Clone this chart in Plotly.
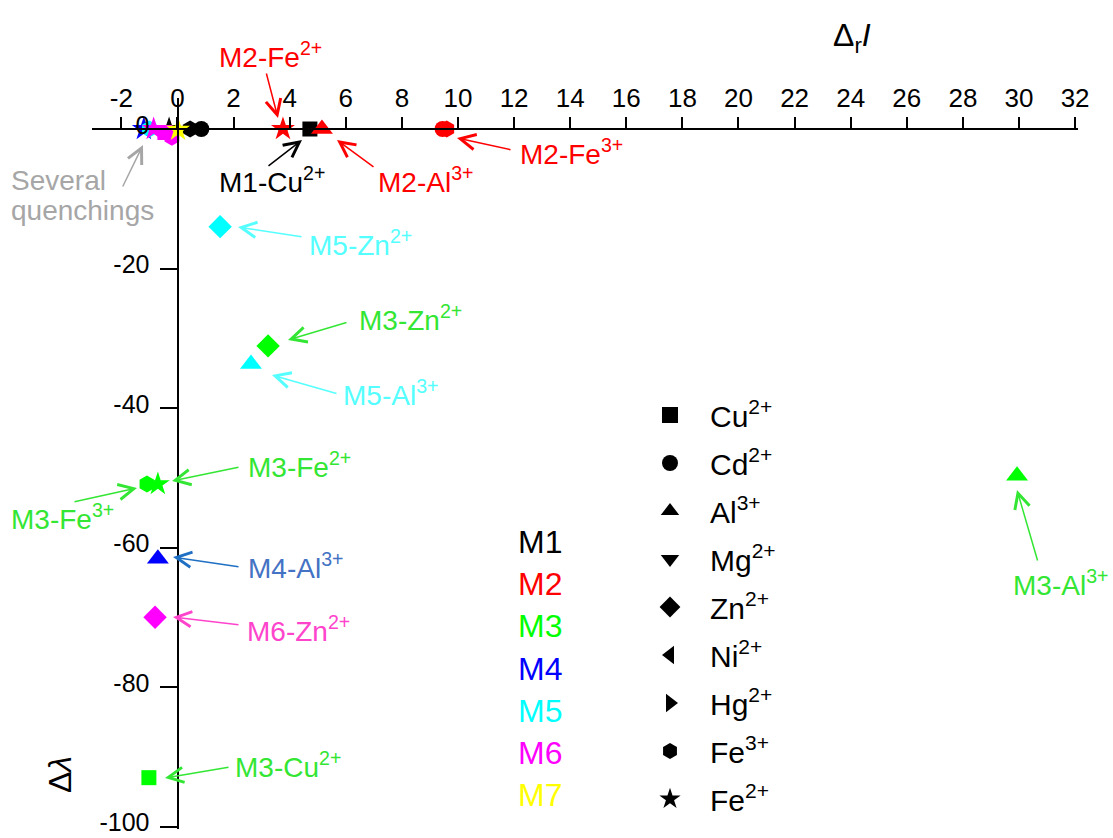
import plotly.graph_objects as go

# ---------------- data ----------------
sensors = ["M1", "M2", "M3", "M4", "M5", "M6", "M7"]
sensor_colors = ["#000000", "#FF0000", "#00FF00", "#0000FF", "#00FFFF", "#FF00FF", "#FFFF00"]

ion_names = ["Cu2+", "Cd2+", "Al3+", "Mg2+", "Zn2+", "Ni2+", "Hg2+", "Fe3+", "Fe2+"]
ion_labels = ["Cu<sup>2+</sup>", "Cd<sup>2+</sup>", "Al<sup>3+</sup>", "Mg<sup>2+</sup>",
              "Zn<sup>2+</sup>", "Ni<sup>2+</sup>", "Hg<sup>2+</sup>", "Fe<sup>3+</sup>", "Fe<sup>2+</sup>"]
ion_symbols = ["square", "circle", "triangle-up", "triangle-down", "diamond",
               "triangle-left", "triangle-right", "hexagon", "star"]
ion_sizes = [15, 16, 19, 19, 18, 19, 19, 17, 18]

# per-sensor measurements: ion, delta I (ΔrI), delta lambda (Δλ)
M1_ions = ["Fe2+", "Fe3+", "Cd2+", "Cu2+"]
M1_dI = [-0.3, 0.45, 0.85, 4.72]
M1_dL = [0.0, 0.0, 0.0, 0.0]

M2_ions = ["Fe2+", "Al3+", "Cd2+", "Fe3+"]
M2_dI = [3.76, 5.15, 9.45, 9.6]
M2_dL = [0.0, 0.0, 0.0, 0.0]

M3_ions = ["Zn2+", "Fe3+", "Fe2+", "Al3+", "Cu2+"]
M3_dI = [3.23, -1.09, -0.7, 29.93, -1.02]
M3_dL = [-31.1, -50.9, -50.9, -49.7, -93.0]

M4_ions = ["Fe2+", "Al3+"]
M4_dI = [-1.2, -0.7]
M4_dL = [0.0, -61.6]

M5_ions = ["Fe3+", "Zn2+", "Al3+"]
M5_dI = [-1.0, 1.52, 2.62]
M5_dL = [0.0, -14.0, -33.7]

M6_ions = ["Cu2+", "Fe3+", "Fe2+", "Zn2+"]
M6_dI = [-0.45, -0.2, -0.85, -0.8]
M6_dL = [-0.5, -1.2, 0.0, -70.0]

M7_ions = ["Fe2+"]
M7_dI = [0.02]
M7_dL = [-0.1]

sensor_data = {
    "M1": (M1_ions, M1_dI, M1_dL),
    "M2": (M2_ions, M2_dI, M2_dL),
    "M3": (M3_ions, M3_dI, M3_dL),
    "M4": (M4_ions, M4_dI, M4_dL),
    "M5": (M5_ions, M5_dI, M5_dL),
    "M6": (M6_ions, M6_dI, M6_dL),
    "M7": (M7_ions, M7_dI, M7_dL),
}

x_ticks = list(range(-2, 33, 2))
x_ticktext = [str(v) for v in x_ticks]
y_ticks = [0, -20, -40, -60, -80, -100]
y_ticktext = [str(v) for v in y_ticks]

# ---------------- layout geometry (pixels) ----------------
W, H = 1113, 838
X0_PX, PX_PER_X = 177.5, 28.05
Y0_PX, PX_PER_Y = 129.0, 6.975
x_range = [-3.05, 32.1]
y_range = [-100.3, 4.5]

def px_x(p):
    return p / W

def px_y(p):
    return 1 - p / H

x_dom = [px_x(X0_PX + x_range[0] * PX_PER_X), px_x(X0_PX + x_range[1] * PX_PER_X)]
y_dom = [px_y(Y0_PX - y_range[0] * PX_PER_Y), px_y(Y0_PX - y_range[1] * PX_PER_Y)]

FONT = "Liberation Sans, Arial, sans-serif"

fig = go.Figure()

sym_map = dict(zip(ion_names, ion_symbols))
size_map = dict(zip(ion_names, ion_sizes))

for s, c in zip(sensors, sensor_colors):
    ions, dI, dL = sensor_data[s]
    fig.add_trace(go.Scatter(
        x=dI, y=dL, mode="markers", name=s, showlegend=False,
        marker=dict(symbol=[sym_map[i] for i in ions], size=[size_map[i] for i in ions],
                    color=c, opacity=1, line=dict(width=0)),
        cliponaxis=False, hoverinfo="skip",
    ))

# legend entries (ion symbols)
for ion, lab, sym in zip(ion_names, ion_labels, ion_symbols):
    fig.add_trace(go.Scatter(
        x=[None], y=[None], mode="markers", name=lab, legendgroup=ion,
        marker=dict(symbol=sym, color="black", size=16, opacity=1), showlegend=True,
    ))

annotations = []

# arrows & labels (pixel positions: text anchor, arrow head, arrow tail)
labels = [
    ("M2-Fe<sup>2+</sup>", "#FF0000", "#FF0000", (270, 55), (278, 118), (266, 72)),
    ("M1-Cu<sup>2+</sup>", "#000000", "#000000", (272, 180), (302, 140), (267, 167)),
    ("M2-Al<sup>3+</sup>", "#FF0000", "#FF0000", (425, 180), (337, 140), (375, 168)),
    ("M2-Fe<sup>3+</sup>", "#FF0000", "#FF0000", (571, 152), (457, 138), (512, 150)),
    ("M5-Zn<sup>2+</sup>", "#55FFFF", "#55FFFF", (360, 243), (238, 227), (303, 237)),
    ("M3-Zn<sup>2+</sup>", "#33E633", "#33E633", (410, 318), (288, 340), (348, 322)),
    ("M5-Al<sup>3+</sup>", "#55FFFF", "#55FFFF", (390, 393), (272, 375), (338, 394)),
    ("M3-Fe<sup>2+</sup>", "#33E633", "#33E633", (299, 465), (172, 481), (240, 467)),
    ("M3-Fe<sup>3+</sup>", "#33E633", "#33E633", (62, 517), (137, 488), (73, 502)),
    ("M4-Al<sup>3+</sup>", "#4472C4", "#1F6FC3", (296, 566), (173, 557), (240, 567)),
    ("M6-Zn<sup>2+</sup>", "#FF44CC", "#FF44CC", (298, 629), (173, 617), (240, 625)),
    ("M3-Cu<sup>2+</sup>", "#33E633", "#33E633", (288, 765), (165, 778), (230, 767)),
    ("M3-Al<sup>3+</sup>", "#33E633", "#33E633", (1060, 583), (1017, 490), (1038, 562)),
]

def add_arrow(hx, hy, ax, ay, col):
    annotations.append(dict(
        x=px_x(hx), y=px_y(hy), xref="paper", yref="paper",
        ax=ax - hx, ay=ay - hy, axref="pixel", ayref="pixel",
        text="", showarrow=True, arrowhead=5, arrowsize=2.0, arrowwidth=1.5,
        arrowcolor=col,
    ))

for text, tcol, acol, (tx, ty), (hx, hy), (ax, ay) in labels:
    add_arrow(hx, hy, ax, ay, acol)
    annotations.append(dict(
        x=px_x(tx), y=px_y(ty), xref="paper", yref="paper",
        text=text, showarrow=False, xanchor="center", yanchor="middle",
        font=dict(family=FONT, size=28, color=tcol),
    ))

# "Several quenchings" note (left aligned, two lines)
add_arrow(143, 145, 122, 188, "#A6A6A6")
for txt, ty in [("Several", 180), ("quenchings", 211)]:
    annotations.append(dict(
        x=px_x(9), y=px_y(ty), xref="paper", yref="paper",
        text=txt, showarrow=False, xanchor="left", yanchor="middle",
        font=dict(family=FONT, size=28, color="#A6A6A6"),
    ))

# sensor colour key
for k, (s, c) in enumerate(zip(sensors, sensor_colors)):
    annotations.append(dict(
        x=px_x(540), y=px_y(542 + k * 42.2), xref="paper", yref="paper",
        text=s, showarrow=False, xanchor="center", yanchor="middle",
        font=dict(family=FONT, size=32, color=c),
    ))

# axis titles
annotations.append(dict(
    x=px_x(852), y=px_y(38), xref="paper", yref="paper",
    text="Δ<sub>r</sub><i>I</i>", showarrow=False, xanchor="center", yanchor="middle",
    font=dict(family=FONT, size=32, color="black"),
))
annotations.append(dict(
    x=px_x(60), y=px_y(775), xref="paper", yref="paper",
    text="Δ<i>λ</i>", showarrow=False, xanchor="center", yanchor="middle", textangle=-90,
    font=dict(family=FONT, size=32, color="black"),
))

fig.update_layout(
    width=W, height=H, autosize=False,
    margin=dict(l=0, r=0, t=0, b=0, pad=0, autoexpand=False),
    paper_bgcolor="white", plot_bgcolor="white",
    font=dict(family=FONT, size=26, color="black"),
    showlegend=True,
    legend=dict(
        x=px_x(630), y=px_y(389), xanchor="left", yanchor="top",
        font=dict(family=FONT, size=30, color="black"),
        itemwidth=70, tracegroupgap=6, bgcolor="rgba(0,0,0,0)", borderwidth=0,
    ),
    xaxis=dict(
        range=x_range, domain=x_dom, anchor="free", position=px_y(Y0_PX), side="top",
        showline=True, linewidth=2, linecolor="black",
        ticks="outside", ticklen=11, tickwidth=2, tickcolor="black",
        tickvals=x_ticks, ticktext=x_ticktext, automargin=False, ticklabeloverflow="allow",
        tickfont=dict(family=FONT, size=26, color="black"),
        showgrid=False, zeroline=False,
    ),
    yaxis=dict(
        range=y_range, domain=y_dom, anchor="free", position=px_x(X0_PX), side="left",
        showline=True, linewidth=2, linecolor="black",
        ticks="outside", ticklen=17, tickwidth=2, tickcolor="black",
        tickvals=y_ticks, ticktext=y_ticktext, automargin=False, ticklabeloverflow="allow",
        ticklabelstandoff=5, ticklabelshift=-4,
        tickfont=dict(family=FONT, size=25, color="black"),
        showgrid=False, zeroline=False,
    ),
    annotations=annotations,
)

fig.write_html("out.html", config={"displayModeBar": False, "responsive": False},
               post_script="document.body.style.margin='0';")
